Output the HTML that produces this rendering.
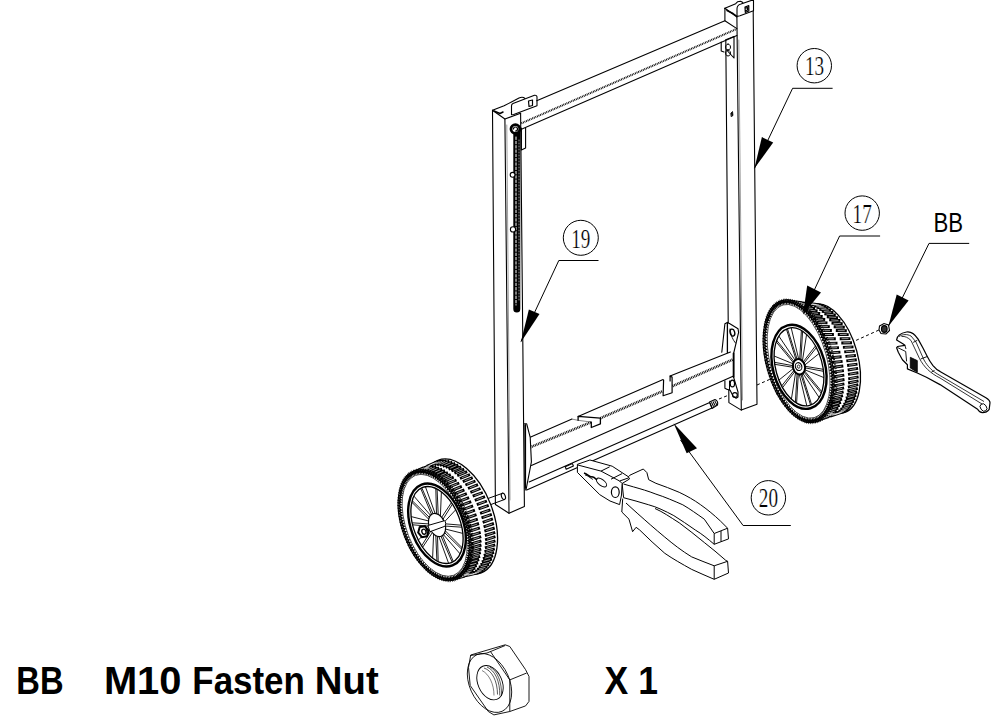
<!DOCTYPE html>
<html><head><meta charset="utf-8">
<style>
html,body{margin:0;padding:0;background:#fff;}
body{width:996px;height:725px;overflow:hidden;position:relative;}
svg{position:absolute;left:0;top:0;}
</style></head><body>
<svg width="996" height="725" viewBox="0 0 996 725">
<g fill="none" stroke="#000" stroke-width="1.1" stroke-linejoin="round" stroke-linecap="round">
<!-- LEFT POST -->
<path d="M492.5,110.3 L495.4,504.5 L509,513.2 L524.4,506.5 L520.6,113.2"/>
<path d="M504.9,119 L509,513.2"/>
<path d="M506.8,125 L510,500" stroke="#888" stroke-width="0.8"/>
<path d="M492.5,110.3 L504.9,119 L520.6,113.2"/>
<path d="M492.5,110.3 L504.1,105.7 L510.5,102.5 L519,98 C521,97 523.5,97 525,98.5"/>
<path d="M494,111 L500,113.5 L503,112" stroke-width="1.5"/>
<path d="M511.5,114.8 L511.5,106 C511.5,104.5 512,104 513,103.6 L534.5,95.3 C536,95 537,95.8 537,97 L537,105.7 L513.7,114.5 Z" fill="#fff"/>
<path d="M528.5,101 L532.5,100 L532.5,105.5 L529,106.5 Z" stroke-width="1.2"/>
<path d="M521.4,128.1 L521.4,150 L525.6,148 L525.6,128"/>
<!-- RIGHT POST -->
<path d="M724.9,8.3 L724.9,20.7"/>
<path d="M725.8,40 L728.9,402.6 L741.3,410.1 L757,404.3 L753.1,0.4"/>
<path d="M736.9,17 L741.3,410.1"/>
<path d="M738.8,40 L742.5,400" stroke="#888" stroke-width="0.8"/>
<path d="M724.9,8.3 L736.9,17"/>
<path d="M724.9,8.3 L735.7,3.7 L737.5,1.8 L740.5,1.2 L742.5,2.3 L743.5,4"/>
<path d="M727,10.5 L733,13.5 L736.5,16" stroke-width="1.5"/>
<path d="M737,16.5 L737,9 C737,6 739,4.5 741,4 L752,0.2 L753.5,0.4 L753.5,10.8 L740,15.8 Z" fill="#fff"/>
<path d="M745,7 L748.8,5.6 L748.8,11 L745.3,12.4 Z M746,8 L747.5,7.5 L747.5,10 L746.2,10.5" stroke-width="1.2"/>
<path d="M731,113 L732.5,111.5 L733,115.5 L731.5,116.5 Z" fill="#000" stroke-width="0.8"/>
<!-- right post top bracket -->
<path d="M721.2,42 L721.2,51 L724,52 M725.8,39.7 L734,36.4 L734,58 L726.6,50" />
<path d="M728,44 a2.5,3 0 1,0 0.1,0 M728,50 a2.5,3 0 1,0 0.1,0" stroke-width="1"/>
<!-- TOP CROSSBAR -->
<path d="M536.7,100.8 L724.9,20.7 L736.9,28.6"/>
<path d="M521.4,123.3 L736.5,29" stroke="#000" stroke-width="2" stroke-dasharray="0.9 0.8" stroke-linecap="butt"/>
<path d="M521.4,129.2 L736.9,35.6"/>
<!-- right lower bracket -->
<path d="M721.8,352.2 L724.9,323.7 L727.4,322.4 L729.9,323.7 L738,328.7 L738.6,332.4 L733.6,353.5 L733.6,377.1 L738,392 L738,397 L736.1,398.2 L733,396 L730,390 L727.4,389.5" fill="#fff"/>
<path d="M733.6,353.5 L733.6,377.1" stroke-width="1.8"/>
<path d="M724.9,380.8 L724.9,388.2 L727.4,389.5" />
<path d="M727.4,322.4 L727.4,352.5" stroke-width="1.3"/>
<ellipse cx="732.4" cy="332.6" rx="2.3" ry="3.6" stroke-width="1.3" transform="rotate(-15 732.4 332.6)"/>
<path d="M730,329 C731,336 733,340 735.5,343" stroke-width="0.9"/>
<ellipse cx="732.4" cy="383.5" rx="2.2" ry="3.4" stroke-width="1.2"/>
<circle cx="734.9" cy="395" r="2.4" stroke-width="1.1"/>
<path d="M729.5,381 L729.5,390" stroke-width="1"/>
<!-- LOWER CROSSBAR -->
<path d="M530.2,437.3 L572,419.1"/>
<path d="M572,419.1 L578.1,420.3 L591.3,422.1" stroke="#777" stroke-width="0.9"/>
<path d="M578.1,420.3 L578.1,416.4 L600.4,418.2 L600.4,423.9 L591.3,427.5 L591.3,422.1" stroke-width="1.3"/>
<path d="M578.1,416.4 L663.1,379.6"/>
<path d="M663.6,380.1 L663.1,395.7 L672.1,392.7 L672.1,377.1 L670.1,376.1 L670.1,381" stroke-width="1.2"/>
<path d="M670.1,376.1 L730.4,352"/>
<path d="M530.2,447.3 L591.3,422.1 M600.4,418.2 L662.6,391.2 M672.6,386.1 L732.9,359.5" stroke="#000" stroke-width="2.6" stroke-dasharray="0.9 0.8" stroke-linecap="butt"/>
<path d="M531.4,465.4 L733.6,376"/>
<!-- left bracket lens -->
<path d="M524.4,423.8 L526.7,423.8 L530.2,437.3 L531.4,461.9 L526.1,489.5 L525,490" fill="#fff"/>
<path d="M525.2,425 L525.2,488" stroke-width="1.8"/>
<!-- rod -->
<path d="M529.1,481.9 L712,401.5"/>
<path d="M526.7,490.1 L712,408"/>
<path d="M565.2,466.8 L572.4,463.6 L573.4,466 L566.2,469.2 Z" fill="#fff"/>
<path d="M709.5,402 L715,399.5 Q718.5,401 717.5,405 L712,408.5 Z" fill="#fff"/><path d="M710.5,405.5 L716.5,402.5" stroke="#000" stroke-width="5" stroke-dasharray="1 0.8" stroke-linecap="butt"/>
<!-- chain -->
<path d="M516.8,130 L516.8,309" stroke-width="7" stroke-linecap="round"/>
<path d="M516,137 L516,305" stroke="#fff" stroke-width="1" stroke-dasharray="2.5 1.8"/>
<path d="M519,140 L519,300" stroke="#fff" stroke-width="0.6" stroke-dasharray="1 2"/>
<circle cx="515.4" cy="129" r="4.4" stroke-width="2.8" fill="#fff"/>
<path d="M513.5,129 a2,2 0 1,1 2,2" stroke-width="1.2"/>
<circle cx="512.6" cy="174.8" r="2.4" fill="#fff"/>
<circle cx="513" cy="229.4" r="2.6" fill="#fff"/>
<!-- left axle -->
<path d="M470,505 L502.7,493.2 M472,511.5 L504.5,499.5" stroke-width="1"/>
<ellipse cx="503.4" cy="496.4" rx="1.9" ry="3.3" transform="rotate(-20 503.4 496.4)" fill="#fff"/>
</g>
<!-- dashed axle line right -->
<path d="M719,399 L729,395 M757,385 L800,366 M826,354 L879,330" stroke="#000" stroke-width="1" stroke-dasharray="3 2.5"/>
<ellipse cx="459.6" cy="516.6" rx="33.38" ry="60.32" transform="rotate(-21 459.6 516.6)" fill="#fff" stroke="#000" stroke-width="1.3"/>
<path d="M464.7,513.8L474.9,510.2M478.5,508.9L488.7,505.4M466.2,518.1L476.5,514.6M480.1,513.4L490.4,509.9M467.6,522.5L477.8,519.1M481.5,517.8L491.8,514.4M468.7,526.9L479.0,523.5M482.7,522.3L492.9,518.9M469.7,531.2L479.9,527.9M483.6,526.8L493.9,523.5M470.4,535.6L480.7,532.3M484.4,531.2L494.7,528.0M470.9,539.8L481.2,536.7M484.9,535.5L495.2,532.4M471.1,544.0L481.4,540.9M485.1,539.8L495.4,536.7M471.1,548.0L481.4,545.0M485.1,543.9L495.4,540.9M470.9,551.9L481.2,549.0M484.9,547.9L495.2,544.9M470.5,555.7L480.8,552.7M484.5,551.7L494.8,548.8M469.8,559.2L480.1,556.3M483.8,555.3L494.1,552.4M469.0,562.5L479.2,559.7M482.9,558.7L493.2,555.8M467.9,565.5L478.1,562.8M481.8,561.8L492.0,559.0M466.6,568.3L476.8,565.6M480.5,564.6L490.7,561.9M465.0,570.8L475.3,568.2M478.9,567.2L489.1,564.5M463.3,573.0L473.5,570.4M477.2,569.4L487.4,566.8M461.5,574.9L471.6,572.3M475.3,571.4L485.4,568.8M459.4,576.5L469.5,573.9M473.2,573.0L483.3,570.4M457.2,577.8L467.3,575.2M470.9,574.3L481.0,571.7M454.9,578.7L464.9,576.1M468.5,575.2L478.6,572.6M452.4,579.2L462.4,576.7M466.0,575.7L476.0,573.2M449.8,579.4L459.8,576.9M463.4,575.9L473.4,573.4M447.2,579.3L457.1,576.7M460.7,575.8L470.6,573.2M444.4,578.7L454.3,576.2M457.9,575.3L467.7,572.7M441.6,577.9L451.5,575.3M455.0,574.4L464.8,571.8M438.8,576.7L448.6,574.1M452.1,573.2L461.9,570.6M435.9,575.2L445.7,572.5M449.2,571.6L458.9,569.0M433.1,573.3L442.8,570.7M446.3,569.7L456.0,567.1M430.2,571.1L439.9,568.5M443.3,567.5L453.0,564.8M427.4,568.7L437.0,565.9M440.5,565.0L450.1,562.3M424.6,565.9L434.2,563.1M437.7,562.2L447.2,559.4M422.0,562.9L431.5,560.1M434.9,559.1L444.5,556.3M419.4,559.6L428.9,556.8M432.3,555.7L441.8,552.9M416.9,556.1L426.3,553.2M429.7,552.2L439.2,549.3M414.5,552.4L423.9,549.5M427.3,548.4L436.7,545.4M412.3,548.5L421.6,545.5M425.0,544.4L434.4,541.4M410.2,544.5L419.5,541.4M422.9,540.3L432.2,537.2M408.3,540.4L417.6,537.2M420.9,536.1L430.3,532.9M406.5,536.1L415.8,532.9M419.2,531.7L428.5,528.5M405.0,531.8L414.2,528.5M417.6,527.3L426.8,524.0M403.6,527.4L412.9,524.1M416.2,522.9L425.4,519.5M402.5,523.0L411.7,519.6M415.0,518.4L424.3,515.0M401.5,518.7L410.8,515.2M414.1,513.9L423.3,510.4M400.8,514.3L410.0,510.8M413.3,509.5L422.5,505.9M400.3,510.1L409.5,506.4M412.8,505.1L422.0,501.5M400.1,505.9L409.3,502.2M412.6,500.9L421.8,497.2M400.1,501.9L409.3,498.1M412.6,496.8L421.8,493.0M400.3,498.0L409.5,494.2M412.8,492.8L422.0,489.0M400.7,494.2L409.9,490.4M413.2,489.0L422.4,485.1M401.4,490.7L410.6,486.8M413.9,485.4L423.1,481.5M402.2,487.4L411.5,483.5M414.8,482.0L424.0,478.0M403.3,484.4L412.6,480.4M415.9,478.9L425.2,474.9M404.6,481.6L413.9,477.5M417.2,476.1L426.5,472.0M406.2,479.1L415.4,475.0M418.8,473.5L428.1,469.4M407.9,476.9L417.2,472.7M420.5,471.2L429.8,467.1M409.7,475.0L419.1,470.8M422.4,469.3L431.8,465.1M411.8,473.4L421.2,469.2M424.5,467.7L433.9,463.5M414.0,472.1L423.4,467.9M426.8,466.4L436.2,462.2M416.3,471.2L425.8,467.0M429.2,465.5L438.6,461.3M418.8,470.7L428.3,466.5M431.7,464.9L441.2,460.7M421.4,470.5L430.9,466.3M434.3,464.7L443.8,460.5M424.0,470.7L433.6,466.4M437.0,464.9L446.6,460.7M426.8,471.2L436.4,466.9M439.8,465.4L449.5,461.2M429.6,472.0L439.2,467.8M442.7,466.3L452.4,462.1M432.4,473.2L442.1,469.0M445.6,467.5L455.3,463.3M435.3,474.7L445.0,470.6M448.5,469.1L458.3,464.9M438.1,476.6L447.9,472.5M451.4,471.0L461.2,466.8M441.0,478.8L450.8,474.7M454.4,473.2L464.2,469.1M443.8,481.3L453.7,477.2M457.2,475.7L467.1,471.6M446.6,484.0L456.5,480.0M460.0,478.5L470.0,474.5M449.2,487.0L459.2,483.0M462.8,481.6L472.7,477.6M451.8,490.3L461.8,486.4M465.4,485.0L475.4,481.0M454.3,493.8L464.4,489.9M468.0,488.5L478.0,484.6M456.7,497.5L466.8,493.7M470.4,492.3L480.5,488.5M458.9,501.4L469.1,497.6M472.7,496.2L482.8,492.5M461.0,505.4L471.2,501.7M474.8,500.4L485.0,496.7M462.9,509.5L473.1,505.9M476.8,504.6L486.9,501.0" stroke="#000" stroke-width="2.9" stroke-linecap="butt"/>
<path d="M466.5,513.1L473.1,510.9M480.4,508.3L486.9,506.0M468.1,517.5L474.6,515.2M482.0,512.7L488.5,510.5M469.4,521.9L476.0,519.7M483.4,517.2L489.9,515.0M470.6,526.3L477.2,524.1M484.5,521.7L491.1,519.5M471.5,530.7L478.1,528.5M485.5,526.2L492.1,524.1M472.2,535.0L478.8,532.9M486.2,530.6L492.8,528.5M472.7,539.3L479.3,537.2M486.7,535.0L493.3,532.9M473.0,543.4L479.6,541.5M487.0,539.2L493.6,537.3M473.0,547.5L479.6,545.6M487.0,543.4L493.6,541.4M472.8,551.4L479.4,549.5M486.8,547.4L493.4,545.5M472.3,555.1L478.9,553.3M486.3,551.2L492.9,549.3M471.7,558.7L478.3,556.8M485.7,554.8L492.3,552.9M470.8,562.0L477.4,560.2M484.8,558.2L491.3,556.4M469.7,565.0L476.3,563.3M483.6,561.3L490.2,559.5M468.4,567.8L474.9,566.1M482.3,564.1L488.9,562.4M466.9,570.3L473.4,568.6M480.7,566.7L487.3,565.0M465.2,572.6L471.7,570.9M479.0,569.0L485.5,567.3M463.3,574.5L469.8,572.8M477.1,570.9L483.6,569.2M461.2,576.1L467.7,574.4M475.0,572.5L481.5,570.9M459.0,577.3L465.5,575.6M472.7,573.8L479.2,572.2M456.7,578.2L463.1,576.6M470.3,574.7L476.8,573.1M454.2,578.8L460.6,577.1M467.8,575.3L474.2,573.7M451.6,579.0L458.0,577.3M465.2,575.5L471.6,573.9M448.9,578.8L455.3,577.2M462.4,575.3L468.8,573.7M446.2,578.3L452.5,576.6M459.6,574.8L466.0,573.2M443.4,577.4L449.7,575.8M456.8,573.9L463.1,572.3M440.5,576.2L446.8,574.6M453.9,572.7L460.1,571.1M437.7,574.7L443.9,573.0M450.9,571.1L457.2,569.5M434.8,572.8L441.0,571.1M448.0,569.2L454.2,567.5M431.9,570.6L438.1,568.9M445.1,567.0L451.3,565.3M429.1,568.2L435.3,566.4M442.2,564.5L448.4,562.7M426.4,565.4L432.5,563.6M439.4,561.7L445.5,559.9M423.7,562.4L429.8,560.6M436.6,558.6L442.7,556.8M421.1,559.1L427.2,557.3M434.0,555.2L440.1,553.4M418.6,555.6L424.6,553.7M431.4,551.6L437.5,549.8M416.2,551.9L422.2,550.0M429.0,547.9L435.0,546.0M413.9,548.0L420.0,546.1M426.7,543.9L432.7,542.0M411.9,544.0L417.9,542.0M424.6,539.8L430.6,537.8M409.9,539.8L415.9,537.8M422.6,535.5L428.6,533.5M408.2,535.5L414.1,533.5M420.8,531.2L426.8,529.1M406.6,531.2L412.6,529.1M419.2,526.7L425.2,524.6M405.3,526.8L411.2,524.7M417.8,522.3L423.8,520.1M404.1,522.4L410.0,520.2M416.7,517.8L422.6,515.6M403.2,518.0L409.1,515.8M415.7,513.3L421.6,511.1M402.5,513.7L408.4,511.4M415.0,508.9L420.9,506.6M402.0,509.4L407.9,507.1M414.5,504.5L420.4,502.2M401.7,505.2L407.6,502.9M414.2,500.2L420.1,497.9M401.7,501.2L407.6,498.8M414.2,496.1L420.1,493.7M401.9,497.3L407.8,494.8M414.4,492.1L420.3,489.7M402.4,493.6L408.3,491.1M414.9,488.3L420.8,485.8M403.0,490.0L408.9,487.5M415.5,484.7L421.4,482.2M403.9,486.7L409.8,484.2M416.4,481.3L422.4,478.8M405.0,483.7L410.9,481.1M417.6,478.2L423.5,475.6M406.3,480.9L412.3,478.2M418.9,475.3L424.8,472.7M407.8,478.3L413.8,475.7M420.5,472.8L426.4,470.1M409.5,476.1L415.5,473.5M422.2,470.5L428.2,467.8M411.4,474.2L417.4,471.5M424.1,468.5L430.1,465.9M413.5,472.6L419.5,469.9M426.2,466.9L432.2,464.2M415.7,471.4L421.7,468.7M428.5,465.7L434.5,463.0M418.0,470.5L424.1,467.8M430.9,464.7L436.9,462.0M420.5,469.9L426.6,467.2M433.4,464.2L439.5,461.5M423.1,469.7L429.2,467.0M436.0,464.0L442.1,461.3M425.8,469.9L431.9,467.2M438.8,464.1L444.9,461.4M428.5,470.4L434.7,467.7M441.6,464.6L447.7,461.9M431.3,471.3L437.5,468.6M444.4,465.5L450.6,462.8M434.2,472.5L440.4,469.8M447.3,466.8L453.6,464.1M437.0,474.0L443.3,471.3M450.3,468.3L456.5,465.6M439.9,475.9L446.2,473.2M453.2,470.2L459.5,467.6M442.8,478.0L449.1,475.4M456.1,472.5L462.4,469.8M445.6,480.5L451.9,477.9M459.0,475.0L465.3,472.4M448.3,483.3L454.7,480.7M461.8,477.8L468.2,475.2M451.0,486.3L457.4,483.8M464.6,480.9L471.0,478.3M453.6,489.6L460.0,487.1M467.2,484.2L473.6,481.7M456.1,493.1L462.6,490.6M469.8,487.8L476.2,485.3M458.5,496.8L465.0,494.4M472.2,491.6L478.7,489.2M460.8,500.7L467.2,498.3M474.5,495.6L481.0,493.2M462.8,504.7L469.3,502.3M476.6,499.7L483.1,497.3M464.8,508.9L471.3,506.6M478.6,503.9L485.1,501.6" stroke="#fff" stroke-width="0.6" stroke-linecap="butt"/>
<ellipse cx="437.1" cy="524.4" rx="31.6" ry="57.5" transform="rotate(-21 437.1 524.4)" fill="none" stroke="#000" stroke-width="2" stroke-dasharray="1 1.3"/>
<ellipse cx="434.6" cy="525.3" rx="32.1" ry="58" transform="rotate(-21 434.6 525.3)" fill="#fff" stroke="#000" stroke-width="1.2"/>
<path d="M464.3,513.9 L462.3,516.2 L465.3,516.7 L463.2,518.9 L466.3,519.6 L464.1,521.7 L467.2,522.5 L464.9,524.4 L467.9,525.4 L465.6,527.1 L468.6,528.2 L466.2,529.9 L469.2,531.1 L466.8,532.6 L469.7,534.0 L467.2,535.3 L470.1,536.8 L467.6,538.0 L470.4,539.6 L467.9,540.6 L470.6,542.4 L468.1,543.2 L470.8,545.1 L468.2,545.8 L470.8,547.7 L468.2,548.3 L470.7,550.3 L468.1,550.7 L470.5,552.9 L467.9,553.1 L470.2,555.3 L467.6,555.4 L469.8,557.7 L467.2,557.6 L469.4,560.0 L466.8,559.7 L468.8,562.2 L466.2,561.7 L468.1,564.3 L465.6,563.6 L467.4,566.3 L464.9,565.4 L466.5,568.1 L464.1,567.2 L465.6,569.9 L463.2,568.7 L464.5,571.5 L462.2,570.2 L463.4,573.0 L461.2,571.6 L462.3,574.4 L460.1,572.8 L461.0,575.6 L458.9,573.9 L459.7,576.7 L457.7,574.8 L458.3,577.7 L456.4,575.7 L456.8,578.5 L455.0,576.4 L455.3,579.2 L453.6,576.9 L453.7,579.7 L452.1,577.3 L452.1,580.1 L450.6,577.6 L450.4,580.3 L449.0,577.7 L448.7,580.4 L447.4,577.7 L446.9,580.3 L445.8,577.5 L445.1,580.1 L444.1,577.2 L443.3,579.7 L442.4,576.7 L441.4,579.1 L440.7,576.1 L439.5,578.5 L439.0,575.4 L437.7,577.6 L437.2,574.5 L435.8,576.7 L435.5,573.5 L433.9,575.6 L433.7,572.4 L432.0,574.3 L431.9,571.1 L430.1,573.0 L430.2,569.7 L428.2,571.4 L428.5,568.2 L426.4,569.8 L426.7,566.6 L424.5,568.1 L425.0,564.8 L422.7,566.2 L423.4,563.0 L421.0,564.2 L421.7,561.0 L419.2,562.1 L420.1,559.0 L417.5,559.9 L418.6,556.8 L415.9,557.6 L417.0,554.6 L414.3,555.2 L415.6,552.3 L412.8,552.8 L414.1,549.9 L411.3,550.2 L412.8,547.4 L409.9,547.6 L411.5,544.9 L408.5,545.0 L410.2,542.3 L407.2,542.3 L409.1,539.7 L406.0,539.5 L408.0,537.1 L404.9,536.7 L406.9,534.4 L403.9,533.9 L406.0,531.7 L402.9,531.0 L405.1,528.9 L402.0,528.1 L404.3,526.2 L401.3,525.2 L403.6,523.5 L400.6,522.4 L403.0,520.7 L400.0,519.5 L402.4,518.0 L399.5,516.6 L402.0,515.3 L399.1,513.8 L401.6,512.6 L398.8,511.0 L401.3,510.0 L398.6,508.2 L401.1,507.4 L398.4,505.5 L401.0,504.8 L398.4,502.9 L401.0,502.3 L398.5,500.3 L401.1,499.9 L398.7,497.7 L401.3,497.5 L399.0,495.3 L401.6,495.2 L399.4,492.9 L402.0,493.0 L399.8,490.6 L402.4,490.9 L400.4,488.4 L403.0,488.9 L401.1,486.3 L403.6,487.0 L401.8,484.3 L404.3,485.2 L402.7,482.5 L405.1,483.4 L403.6,480.7 L406.0,481.9 L404.7,479.1 L407.0,480.4 L405.8,477.6 L408.0,479.0 L406.9,476.2 L409.1,477.8 L408.2,475.0 L410.3,476.7 L409.5,473.9 L411.5,475.8 L410.9,472.9 L412.8,474.9 L412.4,472.1 L414.2,474.2 L413.9,471.4 L415.6,473.7 L415.5,470.9 L417.1,473.3 L417.1,470.5 L418.6,473.0 L418.8,470.3 L420.2,472.9 L420.5,470.2 L421.8,472.9 L422.3,470.3 L423.4,473.1 L424.1,470.5 L425.1,473.4 L425.9,470.9 L426.8,473.9 L427.8,471.5 L428.5,474.5 L429.7,472.1 L430.2,475.2 L431.5,473.0 L432.0,476.1 L433.4,473.9 L433.7,477.1 L435.3,475.0 L435.5,478.2 L437.2,476.3 L437.3,479.5 L439.1,477.6 L439.0,480.9 L441.0,479.2 L440.7,482.4 L442.8,480.8 L442.5,484.0 L444.7,482.5 L444.2,485.8 L446.5,484.4 L445.8,487.6 L448.2,486.4 L447.5,489.6 L450.0,488.5 L449.1,491.6 L451.7,490.7 L450.6,493.8 L453.3,493.0 L452.2,496.0 L454.9,495.4 L453.6,498.3 L456.4,497.8 L455.1,500.7 L457.9,500.4 L456.4,503.2 L459.3,503.0 L457.7,505.7 L460.7,505.6 L459.0,508.3 L462.0,508.3 L460.1,510.9 L463.2,511.1 L461.2,513.5 L464.3,513.9" fill="none" stroke="#000" stroke-width="1.25" stroke-linejoin="miter"/>
<ellipse cx="434.6" cy="525.3" rx="30.5" ry="56.4" transform="rotate(-21 434.6 525.3)" fill="none" stroke="#000" stroke-width="1.6" stroke-opacity="0.55"/>
<ellipse cx="434.6" cy="525.3" rx="28.1" ry="53.5" transform="rotate(-21 434.6 525.3)" fill="none" stroke="#000" stroke-width="0.6"/>
<ellipse cx="437.0" cy="525.0" rx="26" ry="43.2" transform="rotate(-21 437.0 525.0)" fill="none" stroke="#000" stroke-width="2.4"/>
<ellipse cx="437.0" cy="525.0" rx="23.3" ry="40.2" transform="rotate(-21 437.0 525.0)" fill="none" stroke="#000" stroke-width="1.3"/>
<path d="M461.4,525.2L445.0,523.8M461.8,527.2L445.5,526.1M462.8,533.4L445.6,529.1M462.2,547.8L445.3,530.8M461.8,549.3L444.7,532.7M460.1,553.9L443.5,534.7M453.3,561.6L442.5,535.6M452.2,562.2L441.0,536.3M448.6,563.3L438.9,536.6M438.2,561.5L437.5,536.3M436.9,560.8L435.8,535.6M432.6,558.1L433.6,534.0M422.6,547.4L432.3,532.7M421.6,545.8L431.0,530.8M418.3,540.2L429.6,528.1M412.6,524.8L429.0,526.2M412.2,522.8L428.5,523.9M411.2,516.6L428.4,520.9M411.8,502.2L428.7,519.2M412.2,500.7L429.3,517.3M413.9,496.1L430.5,515.3M420.7,488.4L431.5,514.4M421.8,487.8L433.0,513.7M425.4,486.7L435.1,513.4M435.8,488.5L436.5,513.7M437.1,489.2L438.2,514.4M441.4,491.9L440.4,516.0M451.4,502.6L441.7,517.3M452.4,504.2L443.0,519.2M455.7,509.8L444.4,521.9" stroke="#000" stroke-width="0.9" fill="none"/>
<ellipse cx="437.0" cy="525.0" rx="8" ry="12" transform="rotate(-21 437.0 525.0)" fill="#fff" stroke="#000" stroke-width="1.2"/>
<path d="M427.9,525.5 L444.5,520.7 C446,521.5 446,525.5 444.8,526.3 L430,531.7 Z" fill="#fff" stroke="#000" stroke-width="1"/>
<path d="M428.6,530.8 L427.1,536.3 L421.9,537.2 L418.2,532.6 L419.7,527.1 L424.9,526.2 Z" fill="#fff" stroke="#000" stroke-width="2"/>
<ellipse cx="423.9" cy="531.7" rx="2" ry="2.6" transform="rotate(-21 423.9 531.7)" fill="none" stroke="#000" stroke-width="1.3"/>
<path d="M425.9,527.2 L427.9,535.2" stroke="#000" stroke-width="1.2"/>
<ellipse cx="829.0" cy="358.5" rx="28.75" ry="56.07" transform="rotate(-15.5 829.0 358.5)" fill="#fff" stroke="#000" stroke-width="1.3"/>
<path d="M829.8,352.9L840.4,352.1M844.2,351.9L854.8,351.1M831.1,357.7L841.6,356.7M845.4,356.4L855.9,355.5M832.1,362.5L842.6,361.4M846.3,360.9L856.8,359.8M832.9,367.3L843.3,366.0M847.1,365.5L857.5,364.1M833.5,372.1L843.9,370.6M847.7,370.0L858.1,368.4M833.9,376.8L844.3,375.1M848.0,374.4L858.4,372.7M834.1,381.5L844.5,379.5M848.2,378.8L858.6,376.8M834.0,385.9L844.4,383.8M848.1,383.0L858.5,380.8M833.7,390.3L844.1,387.9M847.9,387.1L858.3,384.7M833.2,394.4L843.6,391.9M847.4,391.0L857.8,388.4M832.5,398.3L843.0,395.6M846.7,394.7L857.2,392.0M831.6,402.0L842.1,399.1M845.8,398.1L856.3,395.3M830.5,405.4L841.0,402.4M844.8,401.3L855.3,398.3M829.1,408.5L839.7,405.4M843.5,404.3L854.1,401.1M827.6,411.4L838.3,408.1M842.1,406.9L852.7,403.7M825.9,413.9L836.6,410.5M840.5,409.3L851.2,405.9M824.0,416.0L834.8,412.6M838.7,411.3L849.5,407.9M822.0,417.8L832.9,414.3M836.8,413.0L847.7,409.5M819.8,419.2L830.8,415.6M834.8,414.3L845.7,410.8M817.5,420.3L828.6,416.6M832.6,415.3L843.7,411.7M815.1,421.0L826.3,417.3M830.3,416.0L841.5,412.3M812.6,421.2L823.9,417.6M827.9,416.2L839.2,412.6M810.0,421.1L821.4,417.5M825.5,416.1L836.9,412.5M807.3,420.6L818.8,417.0M823.0,415.7L834.5,412.0M804.6,419.8L816.2,416.1M820.4,414.8L832.1,411.2M801.8,418.5L813.6,414.9M817.8,413.7L829.6,410.1M799.1,416.9L811.0,413.4M815.2,412.1L827.1,408.6M796.3,414.9L808.3,411.5M812.6,410.2L824.7,406.8M793.6,412.5L805.7,409.2M810.1,408.0L822.2,404.7M790.9,409.9L803.2,406.7M807.5,405.5L819.8,402.3M788.3,406.9L800.6,403.8M805.1,402.7L817.4,399.6M785.7,403.6L798.2,400.7M802.7,399.6L815.1,396.7M783.3,400.0L795.8,397.3M800.3,396.3L812.9,393.5M780.9,396.2L793.6,393.6M798.1,392.7L810.8,390.1M778.7,392.2L791.4,389.7M796.0,388.9L808.8,386.4M776.6,387.9L789.4,385.7M794.0,384.9L806.9,382.6M774.6,383.5L787.5,381.5M792.2,380.7L805.1,378.7M772.8,378.9L785.8,377.1M790.5,376.4L803.5,374.6M771.2,374.3L784.3,372.6M789.0,372.0L802.1,370.4M769.8,369.5L782.9,368.1M787.7,367.5L800.8,366.1M768.6,364.7L781.8,363.5M786.5,363.0L799.7,361.8M767.5,359.9L780.8,358.8M785.5,358.5L798.8,357.4M766.7,355.0L780.0,354.2M784.8,353.9L798.0,353.1M766.1,350.3L779.4,349.6M784.2,349.4L797.5,348.8M765.7,345.5L779.0,345.1M783.8,345.0L797.2,344.5M765.6,340.9L778.9,340.7M783.7,340.6L797.0,340.4M765.6,336.4L778.9,336.4M783.7,336.4L797.1,336.4M765.9,332.1L779.2,332.3M784.0,332.3L797.3,332.5M766.4,328.0L779.7,328.3M784.5,328.4L797.8,328.8M767.1,324.1L780.4,324.6M785.1,324.7L798.4,325.3M768.0,320.4L781.3,321.0M786.0,321.3L799.2,322.0M769.2,317.0L782.4,317.8M787.1,318.1L800.3,318.9M770.5,313.8L783.6,314.8M788.3,315.1L801.5,316.1M772.0,311.0L785.1,312.1M789.8,312.5L802.8,313.5M773.7,308.5L786.7,309.7M791.4,310.1L804.4,311.3M775.6,306.4L788.5,307.6M793.1,308.1L806.0,309.4M777.6,304.6L790.5,305.9M795.1,306.4L807.9,307.8M779.8,303.1L792.5,304.6M797.1,305.1L809.8,306.5M782.1,302.1L794.7,303.5M799.3,304.1L811.9,305.5M784.5,301.4L797.1,302.9M801.5,303.4L814.1,304.9M787.1,301.1L799.5,302.6M803.9,303.2L816.3,304.7M789.7,301.2L802.0,302.7M806.4,303.3L818.7,304.8M792.3,301.7L804.5,303.2M808.9,303.7L821.1,305.2M795.0,302.6L807.1,304.0M811.4,304.6L823.5,306.0M797.8,303.9L809.7,305.3M814.0,305.8L826.0,307.1M800.5,305.5L812.4,306.8M816.6,307.3L828.4,308.6M803.3,307.5L815.0,308.7M819.2,309.2L830.9,310.4M806.0,309.8L817.6,311.0M821.8,311.4L833.4,312.5M808.7,312.5L820.2,313.5M824.3,313.9L835.8,314.9M811.4,315.5L822.7,316.4M826.8,316.7L838.1,317.6M813.9,318.8L825.2,319.5M829.2,319.8L840.4,320.5M816.4,322.4L827.5,322.9M831.5,323.1L842.7,323.7M818.7,326.2L829.8,326.6M833.7,326.7L844.8,327.2M821.0,330.2L831.9,330.5M835.8,330.5L846.8,330.8M823.1,334.5L833.9,334.5M837.8,334.5L848.7,334.6M825.0,338.9L835.8,338.7M839.7,338.7L850.4,338.6M826.8,343.4L837.5,343.1M841.3,343.0L852.0,342.7M828.4,348.1L839.0,347.6M842.9,347.4L853.5,346.9" stroke="#000" stroke-width="2.9" stroke-linecap="butt"/>
<path d="M831.7,352.7L838.5,352.3M846.1,351.7L852.9,351.3M833.0,357.5L839.7,356.9M847.2,356.2L854.0,355.6M834.0,362.3L840.7,361.6M848.2,360.7L854.9,360.0M834.8,367.1L841.5,366.2M849.0,365.2L855.7,364.4M835.4,371.8L842.1,370.8M849.5,369.7L856.2,368.7M835.8,376.5L842.4,375.4M849.9,374.1L856.5,373.0M835.9,381.1L842.6,379.8M850.0,378.4L856.7,377.2M835.9,385.6L842.5,384.2M850.0,382.6L856.6,381.2M835.6,389.8L842.3,388.3M849.7,386.7L856.4,385.2M835.1,393.9L841.8,392.3M849.3,390.5L855.9,388.9M834.4,397.8L841.1,396.1M848.6,394.2L855.3,392.5M833.5,401.5L840.2,399.7M847.7,397.6L854.4,395.8M832.3,404.9L839.1,403.0M846.7,400.8L853.4,398.9M831.0,408.0L837.8,406.0M845.4,403.7L852.2,401.7M829.5,410.8L836.3,408.7M844.0,406.4L850.8,404.3M827.8,413.2L834.7,411.1M842.4,408.7L849.3,406.5M826.0,415.4L832.9,413.2M840.7,410.7L847.6,408.5M823.9,417.2L830.9,414.9M838.8,412.4L845.7,410.1M821.8,418.6L828.8,416.3M836.7,413.7L843.8,411.4M819.5,419.6L826.6,417.3M834.6,414.7L841.7,412.4M817.1,420.3L824.3,417.9M832.3,415.3L839.5,413.0M814.6,420.6L821.8,418.2M830.0,415.6L837.2,413.2M812.0,420.5L819.3,418.1M827.5,415.5L834.9,413.1M809.4,420.0L816.8,417.6M825.0,415.0L832.4,412.7M806.7,419.1L814.2,416.8M822.5,414.2L830.0,411.9M804.0,417.9L811.5,415.6M820.0,413.0L827.5,410.7M801.2,416.2L808.8,414.0M817.4,411.5L825.0,409.3M798.5,414.3L806.2,412.1M814.8,409.6L822.5,407.5M795.8,411.9L803.5,409.8M812.3,407.4L820.0,405.3M793.1,409.3L801.0,407.2M809.7,404.9L817.6,402.9M790.5,406.3L798.4,404.4M807.3,402.2L815.2,400.2M788.0,403.1L795.9,401.2M804.9,399.1L812.9,397.2M785.5,399.5L793.6,397.7M802.6,395.8L810.6,394.0M783.2,395.7L791.3,394.1M800.4,392.2L808.5,390.5M780.9,391.7L789.1,390.2M798.3,388.4L806.5,386.9M778.9,387.5L787.1,386.1M796.3,384.5L804.6,383.0M776.9,383.1L785.2,381.8M794.5,380.3L802.8,379.0M775.2,378.6L783.5,377.4M792.9,376.1L801.2,374.9M773.6,374.0L782.0,372.9M791.3,371.7L799.7,370.7M772.1,369.3L780.6,368.3M790.0,367.3L798.4,366.4M770.9,364.5L779.4,363.7M788.9,362.8L797.3,362.0M769.9,359.7L778.4,359.0M787.9,358.3L796.4,357.6M769.1,354.9L777.6,354.4M787.1,353.8L795.7,353.2M768.5,350.1L777.0,349.7M786.6,349.3L795.1,348.9M768.1,345.5L776.7,345.2M786.2,344.9L794.8,344.6M768.0,340.9L776.5,340.7M786.1,340.6L794.6,340.4M768.0,336.4L776.6,336.4M786.1,336.4L794.7,336.4M768.3,332.1L776.8,332.2M786.4,332.4L794.9,332.5M768.8,328.0L777.3,328.3M786.9,328.5L795.4,328.7M769.5,324.1L778.0,324.5M787.5,324.8L796.0,325.2M770.4,320.5L778.9,320.9M788.4,321.4L796.9,321.8M771.5,317.1L780.0,317.6M789.5,318.2L797.9,318.7M772.9,314.0L781.3,314.6M790.7,315.3L799.1,315.9M774.4,311.2L782.7,311.9M792.1,312.7L800.5,313.4M776.1,308.7L784.4,309.5M793.7,310.3L802.0,311.1M777.9,306.6L786.2,307.4M795.5,308.3L803.7,309.1M779.9,304.8L788.2,305.7M797.4,306.6L805.6,307.5M782.1,303.4L790.3,304.3M799.4,305.3L807.5,306.2M784.4,302.4L792.5,303.3M801.5,304.3L809.6,305.3M786.8,301.7L794.8,302.6M803.8,303.7L811.8,304.7M789.3,301.4L797.2,302.4M806.1,303.4L814.1,304.4M791.9,301.5L799.7,302.5M808.6,303.5L816.5,304.5M794.5,302.0L802.3,302.9M811.1,304.0L818.9,304.9M797.2,302.9L804.9,303.8M813.6,304.8L821.3,305.7M799.9,304.1L807.6,305.0M816.2,306.0L823.8,306.9M802.7,305.7L810.2,306.6M818.7,307.5L826.3,308.4M805.4,307.7L812.9,308.5M821.3,309.4L828.8,310.2M808.1,310.0L815.5,310.8M823.9,311.6L831.3,312.3M810.8,312.7L818.1,313.3M826.4,314.1L833.7,314.7M813.4,315.7L820.7,316.2M828.8,316.9L836.1,317.4M815.9,318.9L823.1,319.4M831.2,319.9L838.4,320.4M818.4,322.5L825.5,322.8M833.5,323.3L840.7,323.6M820.7,326.2L827.8,326.5M835.7,326.8L842.8,327.1M822.9,330.3L830.0,330.4M837.8,330.6L844.8,330.7M825.0,334.5L832.0,334.5M839.8,334.5L846.7,334.6M827.0,338.8L833.9,338.8M841.6,338.7L848.5,338.6M828.7,343.4L835.6,343.2M843.3,342.9L850.1,342.7M830.3,348.0L837.1,347.7M844.8,347.3L851.6,346.9" stroke="#fff" stroke-width="0.6" stroke-linecap="butt"/>
<ellipse cx="801.6" cy="361.0" rx="31.799999999999997" ry="62.5" transform="rotate(-15.5 801.6 361.0)" fill="none" stroke="#000" stroke-width="2" stroke-dasharray="1 1.3"/>
<ellipse cx="798.6" cy="361.3" rx="32.3" ry="63" transform="rotate(-15.5 798.6 361.3)" fill="#fff" stroke="#000" stroke-width="1.2"/>
<path d="M829.4,352.7 L827.2,355.0 L830.3,355.9 L828.0,358.0 L831.0,359.1 L828.7,361.1 L831.7,362.3 L829.3,364.1 L832.2,365.5 L829.8,367.2 L832.7,368.7 L830.2,370.2 L833.1,371.8 L830.6,373.2 L833.4,375.0 L830.8,376.2 L833.6,378.1 L831.0,379.1 L833.7,381.1 L831.1,382.0 L833.7,384.1 L831.1,384.8 L833.6,387.0 L831.0,387.6 L833.4,389.9 L830.8,390.3 L833.1,392.7 L830.5,392.9 L832.7,395.4 L830.1,395.4 L832.3,398.0 L829.7,397.8 L831.7,400.5 L829.1,400.2 L831.0,402.9 L828.5,402.4 L830.3,405.2 L827.8,404.5 L829.4,407.3 L827.0,406.5 L828.5,409.3 L826.2,408.4 L827.5,411.3 L825.2,410.1 L826.4,413.0 L824.2,411.7 L825.3,414.6 L823.1,413.2 L824.1,416.1 L822.0,414.5 L822.8,417.4 L820.8,415.7 L821.4,418.6 L819.5,416.7 L820.0,419.6 L818.2,417.6 L818.5,420.5 L816.8,418.3 L816.9,421.2 L815.4,418.9 L815.4,421.7 L813.9,419.3 L813.7,422.1 L812.4,419.6 L812.0,422.3 L810.8,419.6 L810.3,422.3 L809.2,419.6 L808.6,422.2 L807.6,419.3 L806.8,421.9 L806.0,419.0 L805.0,421.4 L804.3,418.4 L803.2,420.8 L802.6,417.7 L801.4,420.0 L800.9,416.9 L799.5,419.0 L799.2,415.8 L797.7,417.9 L797.5,414.7 L795.9,416.6 L795.8,413.4 L794.0,415.2 L794.1,411.9 L792.2,413.6 L792.5,410.4 L790.4,411.9 L790.8,408.6 L788.6,410.1 L789.2,406.8 L786.9,408.1 L787.5,404.8 L785.2,406.0 L786.0,402.7 L783.5,403.7 L784.4,400.5 L781.9,401.4 L782.9,398.2 L780.3,398.9 L781.4,395.8 L778.7,396.3 L780.0,393.3 L777.2,393.7 L778.7,390.7 L775.8,390.9 L777.3,388.0 L774.5,388.1 L776.1,385.2 L773.2,385.2 L774.9,382.4 L771.9,382.2 L773.8,379.5 L770.8,379.2 L772.7,376.6 L769.7,376.1 L771.7,373.6 L768.7,373.0 L770.8,370.6 L767.8,369.9 L770.0,367.6 L766.9,366.7 L769.2,364.6 L766.2,363.5 L768.5,361.5 L765.5,360.3 L767.9,358.5 L765.0,357.1 L767.4,355.4 L764.5,353.9 L767.0,352.4 L764.1,350.8 L766.6,349.4 L763.8,347.6 L766.4,346.4 L763.6,344.5 L766.2,343.5 L763.5,341.5 L766.1,340.6 L763.5,338.5 L766.1,337.8 L763.6,335.6 L766.2,335.0 L763.8,332.7 L766.4,332.3 L764.1,329.9 L766.7,329.7 L764.5,327.2 L767.1,327.2 L764.9,324.6 L767.5,324.8 L765.5,322.1 L768.1,322.4 L766.2,319.7 L768.7,320.2 L766.9,317.4 L769.4,318.1 L767.8,315.3 L770.2,316.1 L768.7,313.3 L771.0,314.2 L769.7,311.3 L772.0,312.5 L770.8,309.6 L773.0,310.9 L771.9,308.0 L774.1,309.4 L773.1,306.5 L775.2,308.1 L774.4,305.2 L776.4,306.9 L775.8,304.0 L777.7,305.9 L777.2,303.0 L779.0,305.0 L778.7,302.1 L780.4,304.3 L780.3,301.4 L781.8,303.7 L781.8,300.9 L783.3,303.3 L783.5,300.5 L784.8,303.0 L785.2,300.3 L786.4,303.0 L786.9,300.3 L788.0,303.0 L788.6,300.4 L789.6,303.3 L790.4,300.7 L791.2,303.6 L792.2,301.2 L792.9,304.2 L794.0,301.8 L794.6,304.9 L795.8,302.6 L796.3,305.7 L797.7,303.6 L798.0,306.8 L799.5,304.7 L799.7,307.9 L801.3,306.0 L801.4,309.2 L803.2,307.4 L803.1,310.7 L805.0,309.0 L804.7,312.2 L806.8,310.7 L806.4,314.0 L808.6,312.5 L808.0,315.8 L810.3,314.5 L809.7,317.8 L812.0,316.6 L811.2,319.9 L813.7,318.9 L812.8,322.1 L815.3,321.2 L814.3,324.4 L816.9,323.7 L815.8,326.8 L818.5,326.3 L817.2,329.3 L820.0,328.9 L818.5,331.9 L821.4,331.7 L819.9,334.6 L822.7,334.5 L821.1,337.4 L824.0,337.4 L822.3,340.2 L825.3,340.4 L823.4,343.1 L826.4,343.4 L824.5,346.0 L827.5,346.5 L825.5,349.0 L828.5,349.6 L826.4,352.0 L829.4,352.7" fill="none" stroke="#000" stroke-width="1.25" stroke-linejoin="miter"/>
<ellipse cx="798.6" cy="361.3" rx="30.699999999999996" ry="61.4" transform="rotate(-15.5 798.6 361.3)" fill="none" stroke="#000" stroke-width="1.6" stroke-opacity="0.55"/>
<ellipse cx="798.6" cy="361.3" rx="28.299999999999997" ry="58.5" transform="rotate(-15.5 798.6 361.3)" fill="none" stroke="#000" stroke-width="0.6"/>
<ellipse cx="799.0" cy="366.8" rx="26" ry="43" transform="rotate(-15.5 799.0 366.8)" fill="none" stroke="#000" stroke-width="2.4"/>
<ellipse cx="799.0" cy="366.8" rx="23.3" ry="40" transform="rotate(-15.5 799.0 366.8)" fill="none" stroke="#000" stroke-width="1.3"/>
<path d="M823.3,369.3L805.0,366.3M823.5,371.3L805.1,367.9M823.9,377.6L804.9,369.8M821.8,391.7L804.6,370.9M821.3,393.2L804.0,372.1M819.2,397.6L802.9,373.4M811.6,404.6L802.0,374.0M810.6,405.1L800.9,374.4M806.8,405.8L799.3,374.5M796.6,403.1L798.3,374.2M795.4,402.3L797.1,373.7M791.4,399.2L795.6,372.6M782.5,387.7L794.8,371.7M781.6,386.0L794.0,370.4M778.9,380.1L793.3,368.5M774.7,364.3L793.0,367.3M774.5,362.3L792.9,365.7M774.1,356.0L793.1,363.8M776.2,341.9L793.4,362.7M776.7,340.4L794.0,361.5M778.8,336.0L795.1,360.2M786.4,329.0L796.0,359.6M787.4,328.5L797.1,359.2M791.2,327.8L798.7,359.1M801.4,330.5L799.7,359.4M802.6,331.3L800.9,359.9M806.6,334.4L802.4,361.0M815.5,345.9L803.2,361.9M816.4,347.6L804.0,363.2M819.1,353.5L804.7,365.1" stroke="#000" stroke-width="0.9" fill="none"/>
<ellipse cx="799.0" cy="366.8" rx="6" ry="7.8" transform="rotate(-15.5 799.0 366.8)" fill="#fff" stroke="#000" stroke-width="2"/>
<ellipse cx="798.6" cy="366.6" rx="3.2" ry="4.0" transform="rotate(-15.5 798.6 366.6)" fill="none" stroke="#000" stroke-width="1.1"/>
<ellipse cx="798.6" cy="366.6" rx="1.3" ry="1.7" transform="rotate(-15.5 798.6 366.6)" fill="none" stroke="#000" stroke-width="0.7"/>
<!-- PLIERS -->
<g fill="#fff" stroke="#000" stroke-width="1" stroke-linejoin="round">
<path d="M623.6,498.6 L622.7,498.6 L621.8,512 L629,519.2 L632.6,531.7 L636.1,527.3 L639.7,530 C648,538 656,546 664.8,553.3 C673,559 682,564 691.7,569.4 C699,573 707,576 714.2,579.3 L728.5,573 L727.6,561.3 L725.8,560.4 C719,554 711,548 704.3,542.5 C696,536 688,529 679.2,522.8 C670,517 661,511 652.3,507.5 C643,504 633,501 623.6,498.6 Z" stroke="none"/>
<path d="M622.7,498.6 L621.8,512 L629,519.2 L632.6,531.7 L636.1,527.3 L639.7,530 C648,538 656,546 664.8,553.3 C673,559 682,564 691.7,569.4 C699,573 707,576 714.2,579.3 L728.5,573 L727.6,561.3 L725.8,560.4 C719,554 711,548 704.3,542.5 C696,536 688,529 679.2,522.8 C670,517 663,512 655,508.5" fill="none"/>
<path d="M626,503 C630,507 634,510 637.9,513.8 C646,521 655,529 664.8,537.1 C673,544 682,551 691.7,556.9 C699,560 707,563 714.2,565.8 L727.6,561.3 M714.2,565.8 L714.2,579.3" fill="none"/>
<path d="M622.1,483.5 L629.9,475.2 L643.3,469 L646.9,472.6 L648.7,479.7 L655.9,483.3 C664,486 671,489 679.2,492.3 C687,496 694,500 700.7,504.8 C708,510 714,515 720.4,521 L727.6,528.2 L728.5,538.9 L714.2,544.3 C708,539 702,534 695.3,530 C688,525 681,520 673.8,515.6 C665,511 657,507 648.7,504.8 C640,502 632,500 623.6,497.7 Z"/>
<path d="M623.5,484 L633.5,486.9 C641,489 648,491 655.9,494.1 C665,497 674,501 682.8,504.8 C690,509 697,514 704.3,519.2 L714.2,533.5 L727.6,528.2 M714.2,533.5 L714.2,544.3 M721,531 L721,541.5" fill="none"/>
<path d="M577.4,464.3 L589.9,460 L612.2,466.2 L628.3,476.7 L629.5,479 L622.1,483.5 L621.5,495 L619.6,504.6 L610,501 L599.8,494.7 L577.4,472.4 Z"/>
<path d="M577.4,464.9 L601,471.1 L619.6,481 L622.1,483.5 M601,471.1 L609.7,466.8 M611,479.2 L622.1,473.6 M619.6,481 L628.3,478" fill="none"/>
<ellipse cx="615.3" cy="492.2" rx="3.9" ry="5.3" stroke-width="1.2"/>
<ellipse cx="601.5" cy="482.5" rx="6" ry="3" transform="rotate(38 601.5 482.5)"/>
<path d="M584,473 C587,474 589,476 591,477 C593,476 595,478 597,480" fill="none" stroke-width="1.6"/><path d="M585,475 C588,475.5 590,478 593,479.5" fill="none" stroke-width="0.8"/>
</g>
<!-- WRENCH -->
<g fill="#fff" stroke="#000" stroke-width="1" stroke-linejoin="round">
<path d="M896.6,339.9 C897,336 901,333 906.6,332 C910,331.5 914,333 918.1,339.1 L923.1,348.2 L927.3,356.5 C929,360 931,363 933,365.6 C935,368 937,370 940,371.4 L985.9,397.7 C988,399 990,401 990,402.7 L989.2,409.3 C988,411 985,412.6 982.6,412.6 C980,412.6 978.5,411 977.6,409.3 L940,384.6 L926.4,377.2 L917.3,373 L907.4,368.9 L907.4,364.7 L902.4,359.8 L898.3,352.3 L896.6,347.8 L897.5,346.5 L904.9,345.3 L903.2,344 Z" stroke-width="1.2"/>
<path d="M899,336.5 C903,334 907,334 911,336 L916,342 L924,360 C928,367 932,371 940,375.5 L984,401.5" fill="none" stroke-width="0.8"/>
<path d="M901.5,336.5 C905,336 908,337.5 911,340.5 L919.5,358.5 C924,367 930,373 940,378 L982,404" fill="none" stroke-width="0.8"/>
<path d="M913.2,342.4 L917.3,340.3 M920.6,359 L927.3,356.5 M931.4,372.2 L934.5,370.5" fill="none" stroke-width="0.9"/>
<path d="M897.5,347.5 L905.7,351.5 L906.6,361.4 M904.9,345.3 L906,349" fill="none" stroke-width="0.9"/>
<path d="M910.3,357.3 L917.3,360.6 L917.3,372.2 L910.3,368 Z" fill="#111" stroke-width="0.8"/>
<ellipse cx="983.5" cy="407.5" rx="3" ry="4" transform="rotate(-35 983.5 407.5)" fill="none" stroke-width="0.9"/>
</g>
<!-- small BB nut -->
<g stroke="#000" fill="#fff" stroke-width="1.1">
<path d="M879.5,326 L884,323.5 L888.5,325 L889.5,330.5 L886,334 L881,333.5 L879,330 Z"/>
<ellipse cx="884.3" cy="329" rx="2.8" ry="3.4" fill="#333" stroke-width="1.2"/>
</g>
<!-- BOTTOM NUT -->
<g fill="none" stroke="#000" stroke-width="0.9" stroke-linejoin="round">
<path d="M470.7,655 L505.2,644.8 L509.8,646.5 L525.6,669.7 L529,676.5 L529,701.4 L525.6,705.9 L509.8,711.5 L493.9,714.9 L488.3,711.5 L470.2,685.5 L468.5,667.4 Z"/>
<path d="M470.5,655.5 L487,653 L505.2,645.5"/>
<path d="M490.5,651.6 L509.8,679.9 L526.7,673 M509.8,679.9 L509.8,711.5"/>
<ellipse cx="489.5" cy="683" rx="20" ry="31" transform="rotate(-24 489.5 683)" stroke-width="0.8"/>
<ellipse cx="490" cy="682.7" rx="12" ry="18" transform="rotate(-24 490 682.7)"/>
<path d="M484,668 C492,670.5 497.5,681 497.5,694.5 M487,667 C495,670.5 500,681 499.8,695.5 M490,667 C497.5,671 502,682 501.5,696" stroke-width="0.65"/><path d="M482,670.5 C489,674 494,684 494,695.5" stroke-width="0.5"/>
</g>
<text x="933.5" y="232.3" font-family="Liberation Sans" font-size="26.8" textLength="29.6" lengthAdjust="spacingAndGlyphs" fill="#000">BB</text>
<g fill="none" stroke="#000" stroke-width="1">
<circle cx="580.8" cy="237.8" r="17.5"/>
<circle cx="814.3" cy="65.7" r="17.2"/>
<circle cx="862.2" cy="213.1" r="17.2"/>
<circle cx="768.4" cy="497.8" r="17.2"/>
<path d="M598.5,260.5 L558.8,260.5 L521,341.5"/>
<path d="M832.6,88.3 L792.6,88.3 L754.5,168.3"/>
<path d="M880.1,236 L839.6,236 L804,312"/>
<path d="M969.2,243.4 L929,243.4 L888.4,326.2"/>
<path d="M790.8,525.5 L743.1,525.5 L680.5,440"/>
</g>
<g fill="#000">
<path d="M520.7,342.5 L528.9,309.5 L539.5,314 Z"/>
<path d="M754.5,168.3 L761.9,137.1 L773.2,142.6 Z"/>
<path d="M803,314.5 L807.2,285.5 L821,292.5 Z"/>
<path d="M888.4,326.2 L896.7,294.5 L908.6,300.6 Z"/>
<path d="M673.6,423.2 L686.7,453.3 L697,448.3 Z"/>
</g>
<g font-family="Liberation Serif" font-size="27.5" fill="#000" text-anchor="middle" stroke="#fff" stroke-width="0.25">
<text transform="translate(580.8,247.6) scale(0.7,1)">19</text>
<text transform="translate(814.5,75.3) scale(0.7,1)">13</text>
<text transform="translate(862.2,222.9) scale(0.7,1)">17</text>
<text transform="translate(768.4,507.4) scale(0.7,1)">20</text>
</g>
<g font-family="Liberation Sans" font-weight="bold" font-size="39.6" fill="#000">
<text x="16.3" y="693.8" textLength="47.3" lengthAdjust="spacingAndGlyphs">BB</text>
<text x="103.9" y="693.8" textLength="77.6" lengthAdjust="spacingAndGlyphs">M10</text>
<text x="192.3" y="693.8" textLength="112.6" lengthAdjust="spacingAndGlyphs">Fasten</text>
<text x="314.8" y="693.8" textLength="63.9" lengthAdjust="spacingAndGlyphs">Nut</text>
<text x="604.6" y="693.8" textLength="53.3" lengthAdjust="spacingAndGlyphs">X 1</text>
</g>
</svg>
</body></html>
